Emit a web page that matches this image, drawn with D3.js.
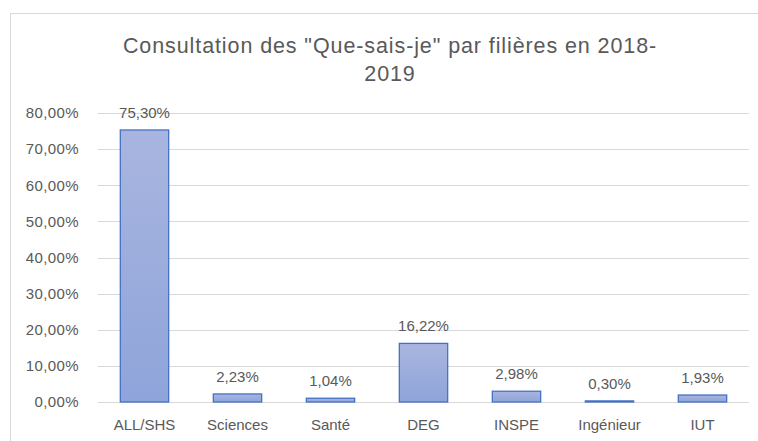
<!DOCTYPE html>
<html><head><meta charset="utf-8">
<script src="https://cdn.jsdelivr.net/npm/d3@7"></script>
<style>body{margin:0;background:#fff}svg{display:block}text{font-family:"Liberation Sans",Arial,sans-serif;fill:#595959}</style>
</head><body><svg id="c" width="758" height="441"></svg>
<script>
const categories = ["ALL/SHS","Sciences","Santé","DEG","INSPE","Ingénieur","IUT"];
const values = [75.30, 2.23, 1.04, 16.22, 2.98, 0.30, 1.93];
const yTicks = [0,10,20,30,40,50,60,70,80];
const titleLines = ['Consultation des "Que-sais-je" par filières en 2018-', '2019'];

const svg = d3.select("#c");
const fmt = v => d3.format(".2f")(v).replace(".", ",") + "%";
const FONT = '"Liberation Sans",Arial,sans-serif';
// chart border
svg.append("rect").attr("x",10.5).attr("y",13.5).attr("width",760).attr("height",440)
  .attr("fill","#fff").attr("stroke","#d9d9d9");

const m = {l:98, r:749, t:113, b:402};
const x = d3.scaleBand().domain(categories).range([m.l,m.r]).paddingInner(0.48).paddingOuter(0.24);
const y = d3.scaleLinear().domain([0,80]).range([m.b,m.t]);

const defs = svg.append("defs");
const g = defs.append("linearGradient").attr("id","bg").attr("x1",0).attr("y1",0).attr("x2",0).attr("y2",1);
g.append("stop").attr("offset","0%").attr("stop-color","#a9b5df");
g.append("stop").attr("offset","100%").attr("stop-color","#8ea4da");

// grid
svg.append("g").selectAll("line").data(yTicks).join("line")
  .attr("x1",m.l).attr("x2",m.r).attr("y1",d=>Math.round(y(d))+0.5).attr("y2",d=>Math.round(y(d))+0.5)
  .attr("stroke","#d9d9d9").attr("stroke-width",1);

// y axis labels
const yAxis = d3.axisLeft(y).tickValues(yTicks).tickFormat(fmt).tickSize(0).tickPadding(19);
const ya = svg.append("g").attr("transform",`translate(${m.l},0)`).call(yAxis);
ya.select(".domain").remove();
ya.selectAll("text").attr("font-size",15).attr("letter-spacing",0.4).attr("fill","#595959").attr("font-family",FONT);

// x axis labels
const xAxis = d3.axisBottom(x).tickSize(0).tickPadding(17);
const xa = svg.append("g").attr("transform",`translate(0,${m.b})`).call(xAxis);
xa.select(".domain").remove();
xa.selectAll("text").attr("font-size",15).attr("fill","#595959").attr("font-family",FONT);

// bars
const data = categories.map((c,i)=>({c, v: values[i]}));
svg.append("g").selectAll("rect").data(data).join("rect")
  .attr("x",d=>x(d.c)).attr("width",x.bandwidth())
  .attr("y",d=>y(d.v)).attr("height",d=>y(0)-y(d.v))
  .attr("fill","url(#bg)").attr("stroke","#4472c4").attr("stroke-width",1.3);

// value labels
svg.append("g").selectAll("text").data(data).join("text")
  .attr("x",d=>x(d.c)+x.bandwidth()/2).attr("y",d=>y(d.v)-12)
  .attr("text-anchor","middle").attr("font-size",15).text(d=>fmt(d.v));

// title
svg.append("g").selectAll("text").data(titleLines).join("text")
  .attr("x",390).attr("y",(d,i)=>53+i*28).attr("text-anchor","middle")
  .attr("font-size",21.5).attr("letter-spacing",0.9).text(d=>d);
</script></body></html>
